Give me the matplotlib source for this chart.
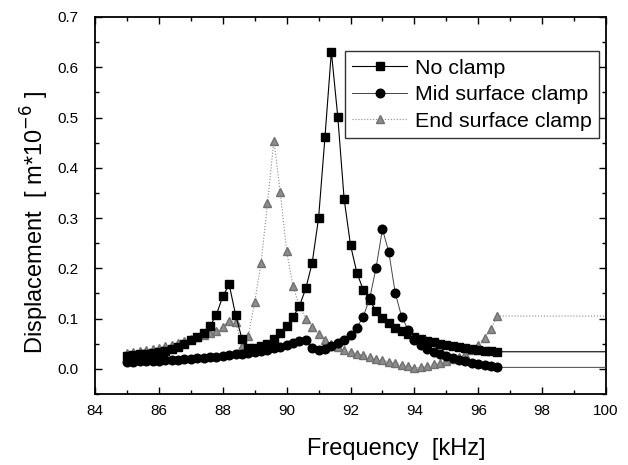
import matplotlib
matplotlib.use("Agg")
import matplotlib.pyplot as plt
from matplotlib.ticker import MultipleLocator, FormatStrFormatter

plt.rcParams['font.family'] = ['Liberation Sans', 'DejaVu Sans']

# frequency sweep [kHz]
freq = [85.0, 85.2, 85.4, 85.6, 85.8, 86.0, 86.2, 86.4, 86.6, 86.8,
        87.0, 87.2, 87.4, 87.6, 87.8, 88.0, 88.2, 88.4, 88.6, 88.8,
        89.0, 89.2, 89.4, 89.6, 89.8, 90.0, 90.2, 90.4, 90.6, 90.8,
        91.0, 91.2, 91.4, 91.6, 91.8, 92.0, 92.2, 92.4, 92.6, 92.8,
        93.0, 93.2, 93.4, 93.6, 93.8, 94.0, 94.2, 94.4, 94.6, 94.8,
        95.0, 95.2, 95.4, 95.6, 95.8, 96.0, 96.2, 96.4, 96.6]

# displacement [m*10^-6]
no_clamp = [0.026, 0.027, 0.029, 0.030, 0.032, 0.034, 0.036, 0.039, 0.043, 0.050,
            0.057, 0.064, 0.072, 0.085, 0.108, 0.144, 0.168, 0.108, 0.060, 0.042,
            0.041, 0.045, 0.050, 0.059, 0.071, 0.085, 0.103, 0.125, 0.160, 0.211,
            0.300, 0.461, 0.631, 0.502, 0.338, 0.246, 0.191, 0.157, 0.137, 0.115,
            0.102, 0.091, 0.082, 0.075, 0.069, 0.064, 0.060, 0.056, 0.053, 0.050,
            0.047, 0.045, 0.043, 0.041, 0.039, 0.038, 0.036, 0.035, 0.034]

mid_clamp = [0.014, 0.0145, 0.015, 0.0155, 0.016, 0.0165, 0.017, 0.0175, 0.018, 0.019,
             0.020, 0.021, 0.022, 0.023, 0.024, 0.025, 0.027, 0.029, 0.030, 0.032,
             0.034, 0.036, 0.038, 0.041, 0.044, 0.047, 0.051, 0.056, 0.058, 0.042,
             0.038, 0.040, 0.045, 0.051, 0.058, 0.068, 0.082, 0.104, 0.140, 0.201,
             0.278, 0.232, 0.151, 0.104, 0.078, 0.058, 0.048, 0.040, 0.034, 0.029,
             0.025, 0.021, 0.018, 0.015, 0.012, 0.010, 0.007, 0.005, 0.003]

end_clamp = [0.032, 0.034, 0.036, 0.038, 0.040, 0.042, 0.045, 0.048, 0.051, 0.055,
             0.059, 0.064, 0.068, 0.071, 0.076, 0.084, 0.096, 0.094, 0.046, 0.066,
             0.133, 0.210, 0.329, 0.454, 0.352, 0.234, 0.164, 0.125, 0.100, 0.083,
             0.070, 0.058, 0.049, 0.043, 0.038, 0.034, 0.030, 0.027, 0.024, 0.020,
             0.017, 0.014, 0.011, 0.008, 0.005, 0.002, 0.003, 0.006, 0.009, 0.012,
             0.015, 0.019, 0.023, 0.030, 0.038, 0.048, 0.062, 0.080, 0.105]

labels = ['No clamp', 'Mid surface clamp', 'End surface clamp']

# the original plot carries the last value on to the right edge without markers
x_end = 100.0

fig = plt.figure(figsize=(6.28, 4.65), dpi=100)
ax = fig.add_axes([0.1513, 0.1527, 0.8137, 0.8108])

n = len(freq)
xs = freq + [x_end]

ax.plot(xs, no_clamp + [no_clamp[-1]], color='black', lw=0.8, ls='-',
        marker='s', ms=5.6, mfc='black', mec='black', markevery=list(range(n)),
        label=labels[0], zorder=3)
ax.plot(xs, mid_clamp + [mid_clamp[-1]], color='#444444', lw=0.7, ls='-',
        marker='o', ms=6.2, mfc='black', mec='black', markevery=list(range(n)),
        label=labels[1], zorder=3)
ax.plot(xs, end_clamp + [end_clamp[-1]], color='#8a8a8a', lw=0.8, ls=':',
        marker='^', ms=6.2, mfc='#8c8c8c', mec='#707070', markevery=list(range(n)),
        label=labels[2], zorder=2)

ax.set_xlim(84, 100)
ax.set_ylim(-0.05, 0.7)
ax.xaxis.set_major_locator(MultipleLocator(2))
ax.xaxis.set_minor_locator(MultipleLocator(1))
ax.yaxis.set_major_locator(MultipleLocator(0.1))
ax.yaxis.set_minor_locator(MultipleLocator(0.05))
ax.yaxis.set_major_formatter(FormatStrFormatter('%.1f'))
ax.tick_params(which='both', direction='in', top=True, right=True, labelsize=11, width=1)
ax.tick_params(which='major', length=5)
ax.tick_params(which='minor', length=3)
ax.tick_params(axis='x', which='major', pad=7)
ax.tick_params(axis='y', which='major', pad=12)
for sp in ax.spines.values():
    sp.set_linewidth(1.3)

ax.set_xlabel('Frequency  [kHz]', fontsize=17)
ax.set_ylabel('Displacement  [ m*10$^{-6}$ ]', fontsize=17)
ax.xaxis.set_label_coords(0.589, -0.118)
ax.yaxis.set_label_coords(-0.086, 0.456)

leg = ax.legend(loc='upper right', bbox_to_anchor=(0.986, 0.909), fontsize=15.4,
                frameon=True, fancybox=False, edgecolor='black', handlelength=2.57,
                handletextpad=0.33, labelspacing=0.35, borderpad=0.35, borderaxespad=0)
leg.get_frame().set_linewidth(1.0)

fig.savefig('out.png', dpi=100)
